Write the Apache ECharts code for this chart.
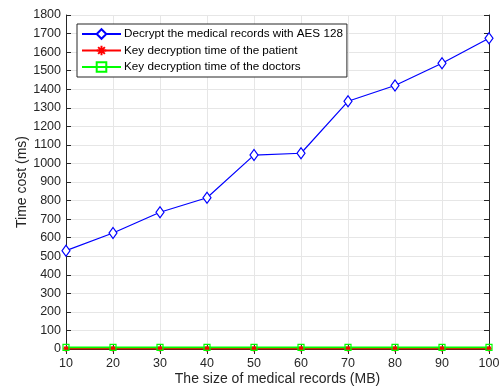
<!DOCTYPE html>
<html><head><meta charset="utf-8">
<script src="https://cdn.jsdelivr.net/npm/echarts@6/dist/echarts.min.js"></script>
<style>html,body{margin:0;padding:0;background:#fff}#c{width:504px;height:389px}</style>
</head><body><div id="c"></div>
<script>
const sizes = [10, 20, 30, 40, 50, 60, 70, 80, 90, 100];
const aesTimes = [530, 625, 737, 815, 1045, 1055, 1335, 1420, 1540, 1675];
const patientTimes = [1, 1, 1, 1, 1, 1, 1, 1, 1, 1];
const doctorTimes = [9, 9, 9, 9, 9, 9, 9, 9, 9, 9];
const seriesNames = ['Decrypt the medical records with AES 128', 'Key decryption time of the patient', 'Key decryption time of the doctors'];

const asterisk = 'path://M0,-10L0,10M-10,0L10,0M-7,-7L7,7M-7,7L7,-7';
const font = 'Liberation Sans, Arial, sans-serif';
const txt = '#262626';
const pair = (xs, ys) => xs.map((x, i) => [x, ys[i]]);

const chart = echarts.init(document.getElementById('c'));
const axisLine = {show: true, lineStyle: {color: txt, width: 1}};
const axisTick = {show: true, inside: true, length: 5, lineStyle: {color: txt}};
chart.setOption({
  animation: false,
  grid: {left: 66, right: 15, top: 15, bottom: 40, containLabel: false, outerBoundsMode: 'none'},
  legend: {
    orient: 'vertical', left: 77, top: 24,
    data: seriesNames,
    backgroundColor: '#fff', borderColor: txt, borderWidth: 1,
    padding: [4, 4, 4, 4], itemGap: 4.5, itemWidth: 39, itemHeight: 12,
    textStyle: {color: '#000', fontSize: 11.7, fontFamily: font, padding: [0, 0, 0, -2]}
  },
  xAxis: [{
    type: 'value', min: 10, max: 100, interval: 10,
    name: 'The size of medical records (MB)', nameLocation: 'middle', nameGap: 23, nameMoveOverlap: false,
    nameTextStyle: {color: txt, fontSize: 14, fontFamily: font},
    splitLine: {show: true, lineStyle: {color: '#e6e6e6'}},
    axisLine, axisTick,
    axisLabel: {color: txt, fontSize: 12.5, fontFamily: font, margin: 8}
  }, {
    type: 'value', min: 10, max: 100, interval: 10, position: 'top',
    axisLine, axisTick, axisLabel: {show: false}, splitLine: {show: false}
  }],
  yAxis: [{
    type: 'value', min: 0, max: 1800, interval: 100,
    name: 'Time cost (ms)', nameLocation: 'middle', nameGap: 37, nameMoveOverlap: false,
    nameTextStyle: {color: txt, fontSize: 14, fontFamily: font},
    splitLine: {show: true, lineStyle: {color: '#e6e6e6'}},
    axisLine, axisTick,
    axisLabel: {color: txt, fontSize: 12.5, fontFamily: font, margin: 5, formatter: v => String(v)}
  }, {
    type: 'value', min: 0, max: 1800, interval: 100, position: 'right',
    axisLine, axisTick, axisLabel: {show: false}, splitLine: {show: false}
  }],
  series: [{
    name: seriesNames[0], type: 'line', data: pair(sizes, aesTimes),
    symbol: 'diamond', symbolSize: [8, 11], showAllSymbol: true,
    lineStyle: {color: '#0000ff', width: 1.2},
    itemStyle: {color: '#fff', borderColor: '#0000ff', borderWidth: 1.2}
  }, {
    name: seriesNames[1], type: 'line', data: pair(sizes, patientTimes),
    symbol: asterisk, symbolSize: 6,
    lineStyle: {color: '#ff0000', width: 1.6},
    itemStyle: {color: '#ff0000', borderColor: '#ff0000', borderWidth: 1.2}
  }, {
    name: seriesNames[2], type: 'line', data: pair(sizes, doctorTimes),
    symbol: 'rect', symbolSize: 6,
    lineStyle: {color: '#00ff00', width: 1.6},
    itemStyle: {color: 'rgba(255,255,255,0)', borderColor: '#00ff00', borderWidth: 1.2}
  }]
});
</script></body></html>
